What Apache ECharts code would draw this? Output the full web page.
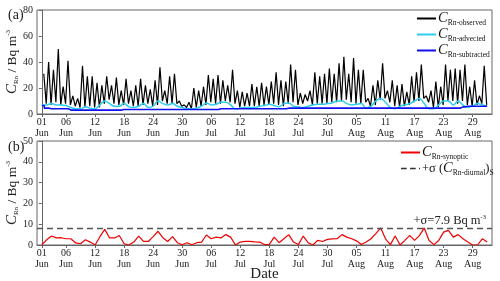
<!DOCTYPE html>
<html><head><meta charset="utf-8">
<script src="https://cdn.jsdelivr.net/npm/echarts@6/dist/echarts.min.js"></script>
<style>html,body{margin:0;padding:0;background:#fff}#c{width:500px;height:281px}</style>
</head><body><div id="c"></div>
<script>
// ---- data (day index: 0 = 01 Jun) ----
const tickDays = [0,5,11,17,23,29,35,41,47,53,59,65,71,77,83,89];
const tickLabels = ['01\nJun','06\nJun','12\nJun','18\nJun','24\nJun','30\nJun','06\nJul','12\nJul','18\nJul','24\nJul','30\nJul','05\nAug','11\nAug','17\nAug','23\nAug','29\nAug'];
const yTicksTop = [0,20,40,60,80];
const yTicksBottom = [0,10,20,30,40,50];
// daily maxima of observed radon (night peak) and afternoon minima
const observedPeak = [31,40,34,50,21,41,14,12,37,29,29,24,22,29,22,28,18,27,18,22,27,22,19,26,36,18,29,31,10,7,9,20,18,21,30,27,30,26,22,34,18,17,16,23,21,24,21,25,32,26,25,38,34,16,15,18,32,29,31,35,31,39,44,31,43,34,34,12,22,26,39,18,26,22,23,17,29,32,38,14,18,25,21,38,34,35,34,38,21,26,14,37];
const observedLow  = [8,7,9,7,8,7,6,5,5,6,5,5,8,11,8,7,7,8,6,6,7,8,6,7,10,8,8,8,6,5,4,5,6,7,9,8,8,10,9,8,5,6,6,6,6,7,7,8,7,6,8,9,7,8,10,7,8,8,8,9,9,10,11,9,8,8,9,6,7,11,12,9,6,5,6,7,9,10,12,9,5,5,7,10,10,8,10,7,6,7,8,7];
const advected = [7,7,8,7,7,6.5,5,4,4,5.5,4.5,4,7,10,8,6,6,8,5.5,5,6,8,5,6,10,8,7,8,6,5,4,4,4.5,6,8.5,7,7.5,9,9,7,4,4.5,5,5,5,6,6.5,7.5,6.5,5.5,8,8.5,6,5.5,5,6,7,7.5,7.5,8,8.5,10,10,8,7,7.5,8,4.5,6,10,12,9,5,4,6,7,8,10,12,8,4,4,7,10,10,7,10,7,5,6,8,7,6];
const subtracted = [6.5,4.5,4,4,4,4,3,3,3,3,3,3,3,3,3,3,3,3.5,3.5,3.5,3.5,3.5,3.5,3.5,3.5,3.5,3.5,3.5,3.5,3.5,3.5,3.5,3.5,3.5,3.5,3.5,3.5,4,4,4,4,4,4,4,4,4,4,4,4,4,4,4.5,4.5,4.5,4.5,4.5,4.5,4.5,4.5,4.5,4.5,4.5,4.5,4.5,4.5,4.5,4.5,4.5,4.5,4.5,4.5,4.5,4.5,4.5,4.5,4.5,4.5,4.5,4.5,4.5,4.5,4.5,4.5,4.5,4.5,4.5,4.5,5.5,6,6,6,6,6];
const synoptic = [0.1,2.5,4.3,3.4,3.5,3,3,1,0.6,2.5,1.4,0,4,7.5,3.4,3.4,4.6,0.6,0,1.4,4.3,1.7,1.7,4,6.6,3.5,1.7,4,1.1,0.1,1.1,0.1,1.1,1.4,4.8,3,3.8,3.4,5,3.8,0,1.4,1.7,1.7,1.5,1.4,0.2,0.3,3.8,1.1,3,5,1.4,0.2,4.3,1.1,0,2.2,1.7,2.7,2.9,3,5,3.8,3,2,0.2,1.4,3,5.5,8.2,3,0.2,4.3,0,2.2,4.6,2.2,4.5,8.2,2.2,0.2,2.2,6.2,7,3.8,5,3,1.5,0,0,3,1.4];
const sigmaDiurnal = 7.9;

// ---- build series data ----
const obsData = [];
observedPeak.forEach((p, d) => { obsData.push([d + 0.4, p]); obsData.push([d + 0.9, observedLow[d]]); });
const advData = advected.map((v, d) => [d, v]);
const subData = subtracted.map((v, d) => [d, v]);
const synData = synoptic.map((v, d) => [d, v]);

const FONT = 'Liberation Serif';
const AX = '#666';
const labelMap = {}; tickDays.forEach((d, i) => labelMap[d] = tickLabels[i]);

function xAxisCfg(gi, withName) {
  return {
    type: 'value', gridIndex: gi, min: -1, max: 93,
    axisLine: { show: true, lineStyle: { color: AX, width: 1 } },
    axisTick: { show: true, customValues: tickDays, length: 3, lineStyle: { color: AX } },
    axisLabel: { show: true, customValues: tickDays, formatter: v => labelMap[v] || '', color: '#222', fontFamily: FONT, fontSize: 10, lineHeight: 11, margin: 3 },
    splitLine: { show: false },
    name: withName ? 'Date' : '', nameLocation: 'middle', nameGap: 22, nameMoveOverlap: false,
    nameTextStyle: { fontFamily: FONT, fontSize: 15, color: '#222' }
  };
}
const nameRich = {
  c: { fontFamily: FONT, fontStyle: 'italic', fontSize: 15, color: '#222', lineHeight: 15 },
  s: { fontFamily: FONT, fontSize: 7, color: '#222', lineHeight: 7, verticalAlign: 'bottom' },
  n: { fontFamily: FONT, fontSize: 13.5, color: '#222', lineHeight: 15 },
  sup: { fontFamily: FONT, fontSize: 7, color: '#222', lineHeight: 7, verticalAlign: 'top' }
};
function yAxisCfg(gi, ticks) {
  return {
    type: 'value', gridIndex: gi, min: ticks[0], max: ticks[ticks.length - 1], interval: ticks[1] - ticks[0],
    axisLine: { show: true, lineStyle: { color: AX, width: 1 } },
    axisTick: { show: true, length: 3, lineStyle: { color: AX } },
    axisLabel: { color: '#222', fontFamily: FONT, fontSize: 10, margin: 4 },
    splitLine: { show: false },
    name: '{c|C}{s|Rn}{n| / Bq m}{sup|-3}', nameLocation: 'middle', nameGap: 17, nameRotate: 90, nameMoveOverlap: false,
    nameTextStyle: { rich: nameRich }
  };
}
const legRich = {
  c: { fontFamily: FONT, fontStyle: 'italic', fontSize: 14.5, color: '#111', lineHeight: 17 },
  s: { fontFamily: FONT, fontSize: 7.5, color: '#111', lineHeight: 9, verticalAlign: 'bottom' },
  n: { fontFamily: FONT, fontSize: 12.5, color: '#111', lineHeight: 17 }
};
const legendNames = {
  obs: '{c|C}{s|Rn-observed}', adv: '{c|C}{s|Rn-advected}', sub: '{c|C}{s|Rn-subtracted}',
  syn: '{c|C}{s|Rn-synoptic}', sig: '{n|+σ (}{c|C}{s|Rn-diurnal}{n|)}{s|S}'
};
const SOLID_ICON = 'rect';
const DASH_ICON = 'path://M0,0h6v1.5h-6zM9.5,0h6v1.5h-6zM19,0h1v1.5h-1z';

const chart = echarts.init(document.getElementById('c'), null, { renderer: 'canvas' });
chart.setOption({
  animation: false,
  backgroundColor: '#fff',
  grid: [
    { left: 37, right: 8, top: 10, height: 104, containLabel: false, outerBoundsMode: 'none', show: true, borderColor: AX, borderWidth: 1, backgroundColor: 'transparent' },
    { left: 37, right: 8, top: 141, height: 104, containLabel: false, outerBoundsMode: 'none', show: true, borderColor: AX, borderWidth: 1, backgroundColor: 'transparent' }
  ],
  xAxis: [xAxisCfg(0, false), xAxisCfg(1, true)],
  yAxis: [yAxisCfg(0, yTicksTop), yAxisCfg(1, yTicksBottom)],
  legend: [
    { data: [{ name: 'obs', icon: SOLID_ICON }, { name: 'adv', icon: SOLID_ICON }, { name: 'sub', icon: SOLID_ICON }],
      orient: 'vertical', left: 412, top: 6, itemWidth: 19, itemHeight: 2, itemGap: 0,
      formatter: n => legendNames[n], textStyle: { rich: legRich, padding: [0, 0, 0, -3] } },
    { data: [{ name: 'syn', icon: SOLID_ICON }, { name: 'sig', icon: DASH_ICON }],
      orient: 'vertical', left: 396, top: 140, itemWidth: 19, itemHeight: 2, itemGap: 0,
      formatter: n => legendNames[n], textStyle: { rich: legRich, padding: [0, 0, 0, -3] } }
  ],
  title: [
    { text: '(a)', left: 3, top: 3, textStyle: { fontFamily: FONT, fontSize: 14, fontWeight: 'normal', color: '#222' } },
    { text: '(b)', left: 3, top: 135, textStyle: { fontFamily: FONT, fontSize: 14, fontWeight: 'normal', color: '#222' } }
  ],
  series: [
    { name: 'obs', type: 'line', xAxisIndex: 0, yAxisIndex: 0, data: obsData, symbol: 'none', lineStyle: { color: '#000', width: 1.2 }, itemStyle: { color: '#000' } },
    { name: 'adv', type: 'line', xAxisIndex: 0, yAxisIndex: 0, data: advData, symbol: 'none', smooth: 0.4, lineStyle: { color: '#2ccdf0', width: 1.5 }, itemStyle: { color: '#2ccdf0' } },
    { name: 'sub', type: 'line', xAxisIndex: 0, yAxisIndex: 0, data: subData, symbol: 'none', step: 'middle', lineStyle: { color: '#1010ee', width: 1.6 }, itemStyle: { color: '#1010ee' } },
    { name: 'syn', type: 'line', xAxisIndex: 1, yAxisIndex: 1, data: synData, symbol: 'none', lineStyle: { color: '#ee0000', width: 1.2 }, itemStyle: { color: '#ee0000' } },
    { name: 'sig', type: 'line', xAxisIndex: 1, yAxisIndex: 1, data: [], symbol: 'none',
      lineStyle: { color: '#333', width: 1.4, type: [6, 4] }, itemStyle: { color: '#333' },
      markLine: { silent: true, symbol: 'none', animation: false,
        lineStyle: { color: '#555', width: 1.3, type: [6, 4] },
        label: { show: true, position: 'insideEndTop', distance: [6, 1], formatter: '{n|+σ=' + sigmaDiurnal + ' Bq m}{sup|-3}',
          rich: { n: { fontFamily: FONT, fontSize: 12.5, color: '#222', lineHeight: 14 }, sup: { fontFamily: FONT, fontSize: 6.5, color: '#222', lineHeight: 7, verticalAlign: 'top' } } },
        data: [{ yAxis: sigmaDiurnal }] } }
  ]
});
</script></body></html>
